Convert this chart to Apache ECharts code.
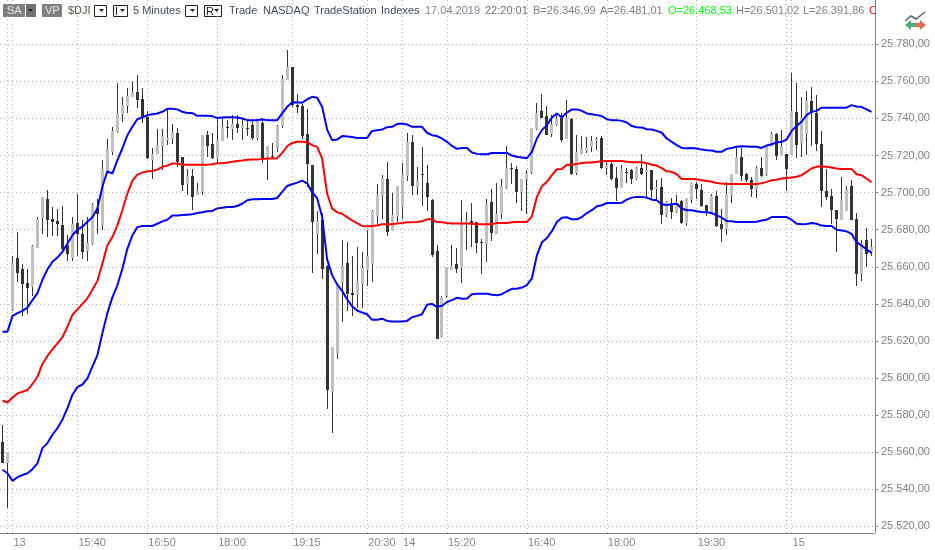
<!DOCTYPE html>
<html>
<head>
<meta charset="utf-8">
<style>
  html, body { margin: 0; padding: 0; background: #fff; }
  #main { width: 935px; height: 550px; }
</style>
<script src="https://cdn.jsdelivr.net/npm/echarts@6/dist/echarts.min.js"></script>
</head>
<body>
<div id="main"></div>
<script>
// one entry per 5 minute bar
const opens = [
  25565.6,25554.4,25636.6,25665,25659,25651.2,25649.2,25670.3,25686.5,25696.6,
  25685.8,25684.7,25682.5,25671.7,25664.7,25683.6,25677.7,25668.6,25672.3,25691.5,
  25682.3,25710.3,25721.8,25732.6,25742.3,25746.7,25751.7,25754.2,25750.5,25741,
  25717.5,25721,25725,25728.3,25729,25732,25719,25704.5,25708.8,25698.6,
  25700.3,25731,25726.1,25718,25728,25735.5,25734.1,25737,25735,25735,
  25736.4,25729.2,25737.8,25718.4,25720,25723.8,25735.9,25760.7,25767.7,25747.2,
  25746.7,25731.5,25714.8,25677.5,25685.2,25660.2,25592.4,25613.7,25651.7,25661.8,
  25645.6,25645,25650.6,25658.2,25661.4,25687.4,25698.2,25707.2,25679.5,25687.4,
  25692.4,25708.8,25727.4,25703,25710,25705,25695.9,25668.5,25622.7,25644,
  25658.2,25661.4,25659.5,25684,25684.7,25684.3,25673.5,25672.3,25694.8,25677.7,
  25688.3,25702.7,25713.5,25713,25700.4,25707.6,25711.2,25734.2,25744,25741.3,
  25731.4,25736.4,25740.4,25728.8,25739.6,25710.6,25721.4,25722.5,25724.5,25728,
  25729.4,25713.3,25715.3,25707.7,25702.7,25711,25712,25707.6,25713.5,25711,
  25712,25701.8,25702.9,25687.7,25693.7,25689.5,25695.3,25683.2,25695.9,25704.9,
  25701.6,25693.5,25689.5,25698,25682.9,25680.5,25698.2,25710,25719,25710,
  25707,25701.8,25713.5,25709.4,25724.7,25731.5,25719.8,25720.7,25720.5,25743.6,
  25726.8,25731.5,25749.4,25743,25726,25700.7,25698.2,25690.5,25685,25690,
  25703.4,25686,25656.2,25674.2,25668
];
const closes = [
  25554.4,25560,25662.3,25656.8,25650.6,25648.6,25671.4,25685.8,25697.7,25685.4,
  25684.3,25683,25669.4,25666.8,25683,25677.5,25668,25672.8,25693.3,25688.5,
  25712.6,25723.4,25733.3,25743,25747.2,25752,25754.2,25750,25740.4,25718.7,
  25720.7,25725.8,25730.5,25729.4,25732.8,25716.6,25704,25708.8,25697.7,25700.8,
  25731,25725.2,25718.6,25728.3,25735.3,25735,25736.9,25734.8,25736.4,25734.5,
  25729.4,25738.6,25718.4,25725,25719.5,25735.9,25761.3,25767.7,25747.2,25746,
  25730.5,25715.3,25684,25684.7,25658.7,25593.5,25616.6,25650,25660.4,25645.2,
  25644.9,25652.4,25659.3,25665.8,25690,25698.7,25708,25679,25688,25703.6,
  25709.5,25727.4,25703.4,25706,25709.5,25697.8,25666.3,25621.3,25643.8,25660,
  25660.4,25659,25682.9,25684.5,25683.4,25673,25672.6,25693.7,25678,25688.3,
  25703.4,25713.5,25712.8,25700.4,25707.6,25710.8,25735,25743.2,25740,25731,
  25737,25739.6,25728.3,25740.4,25710.3,25721.8,25723.4,25724.3,25728,25729,
  25713.3,25714.8,25707.2,25702.5,25712.6,25710.5,25707.2,25713.3,25710.3,25712,
  25701.3,25703,25687.7,25695.3,25689.5,25695,25683.6,25697,25704.9,25701.8,
  25693,25690,25698,25682,25680.2,25699,25710.3,25719,25709,25706.7,
  25702.2,25713.5,25709,25725,25731.5,25720,25725,25712.6,25744,25725.6,
  25740,25749.5,25743,25726,25701,25697.7,25690.5,25685.6,25695.9,25701.8,
  25685.4,25656.2,25672.4,25666.7,25670.6
];
const lows = [
  25554,25530,25636,25652,25633.5,25634.4,25644,25670,25677.7,25676.2,
  25676.6,25676.8,25667.2,25663.2,25663,25666,25664,25663,25671.7,25677.7,
  25680,25710.3,25720.2,25732.2,25738.2,25742.7,25751.7,25745.4,25737.7,25718,
  25707.6,25721,25712,25725.6,25726,25714,25701,25698.6,25690.5,25698.6,
  25698.6,25719.3,25718,25715.7,25728,25729.7,25728.3,25732,25728.3,25730.5,
  25728.6,25728.3,25716,25706.7,25718.4,25722,25735,25760.7,25746.3,25742.7,
  25729,25703,25656.8,25666.7,25653.5,25583.2,25570.6,25610.5,25630,25635.9,
  25633.7,25638,25638,25649.7,25651.9,25682.5,25686,25676.6,25679.5,25684,
  25686,25706,25698.6,25698.6,25693,25690,25665.5,25621,25622,25643,
  25658,25656.8,25651.4,25669,25670.8,25667.6,25656,25662.7,25674,25677.7,
  25685.8,25702,25704.9,25694.4,25690,25688.3,25710,25734,25740,25731,
  25730,25736,25727.4,25728.8,25709.4,25709.4,25721,25721.4,25722,25723,
  25713,25709.4,25706.7,25695.5,25702.7,25705,25704.5,25706.7,25709.4,25697.7,
  25696.8,25696.8,25682.9,25687,25686,25689,25683,25682,25694.4,25696.8,
  25692,25687.4,25689.5,25681.4,25673.3,25677.3,25694.4,25710,25706.3,25705.8,
  25697.7,25697,25708.5,25708.8,25724.7,25717.5,25719.8,25701,25720.5,25718.7,
  25719.3,25720.2,25725,25722.5,25692,25696,25683.2,25668,25685,25690,
  25685,25649.5,25652.3,25659.8,25665.6
];
const highs = [
  25574.8,25560,25665.8,25678.7,25661.3,25658.6,25671.7,25686.8,25697.7,25701.4,
  25692.4,25691.2,25692.8,25677,25687,25699,25685,25687,25694.5,25696.4,
  25717.8,25728.8,25735.3,25759.3,25751.7,25756.2,25760,25763.4,25756.4,25744,
  25724.3,25734.2,25734.2,25745.4,25736.8,25734.6,25719,25713,25713,25705,
  25731,25733,25732.3,25740,25741,25739,25741.6,25741.8,25740,25739,
  25739,25739.5,25740,25725,25726.5,25736.4,25763.4,25777,25767.7,25753,
  25748,25745,25714.8,25690,25689,25661,25616.6,25651,25674.4,25673.5,
  25665.8,25670.8,25668,25679.8,25690.5,25704.7,25709.5,25716.4,25700,25703.6,
  25716,25732.4,25731,25714,25724.7,25714.8,25696.3,25671.7,25644,25660,
  25671.7,25670,25696,25689.4,25694.2,25684.3,25674.8,25696.4,25701.8,25705,
  25707.6,25725,25716.2,25714.2,25707.6,25712,25735,25748.6,25753,25746.7,
  25742,25743,25742.7,25750,25740,25731,25730.5,25730,25730.5,25730,
  25730.5,25717.5,25717.5,25714,25714.8,25713.5,25713,25714,25720.7,25716.6,
  25712,25707,25708,25695.3,25697,25698.6,25695.9,25697,25705.2,25705.8,
  25704.5,25693.5,25699,25700.7,25691.4,25705.8,25710.3,25723.8,25723.8,25710.6,
  25708.5,25714.2,25719,25725,25732.8,25732.3,25733.7,25720.7,25764.3,25759.3,
  25751.4,25754.8,25756.8,25752.6,25733,25712.6,25702,25690.5,25708.5,25703.4,
  25707,25689,25674.6,25681,25675
];

// bands
const upperBand = [
  25625,25625,25633.5,25635,25636.2,25638,25642,25645.8,25653,25658.6,
  25662.7,25665,25668,25672.6,25677,25680,25681.6,25684.3,25686.7,25691.5,
  25703.2,25711.5,25710.3,25717.5,25723.8,25731,25735.5,25739.6,25740.5,25741.8,
  25742.3,25742.7,25743.6,25745.2,25745.2,25744.9,25743.6,25743,25742.9,25741.4,
  25741.4,25741.4,25741.3,25740.2,25740.5,25740.7,25740.7,25740.5,25740,25739.1,
  25739.1,25739.1,25739.5,25739.1,25739.1,25739.1,25742.7,25746.3,25748.6,25748.8,
  25748.5,25750.3,25751.7,25751.2,25746.3,25734,25728.3,25728.6,25730.5,25730.3,
  25730,25729.5,25729.4,25729.5,25733.3,25733.7,25734,25735.3,25735.5,25737,
  25737.3,25736.8,25735.5,25735.5,25735.5,25732.3,25731,25730.5,25729.2,25727.4,
  25725.2,25723.6,25724.1,25724.1,25721.6,25720.9,25720.7,25720.7,25721.4,25721.4,
  25721.4,25721.4,25720,25719.3,25719,25718.6,25722,25729.2,25733.7,25736.4,
  25740.5,25742.7,25740.5,25743.2,25744.9,25744.9,25744.1,25742.7,25742.3,25741.8,
  25741.3,25739.6,25739.1,25739.1,25738.7,25737.8,25735.9,25735.3,25735.1,25734.2,
  25734,25733.3,25732.3,25729.2,25727.4,25725.6,25724.1,25724,25724.1,25723.8,
  25723.2,25722.9,25722.7,25722,25722,25723.6,25724.1,25724.7,25725,25724.9,
  25724.7,25724.7,25724.1,25725.4,25726.1,25727,25727.4,25728.6,25733.3,25736,
  25738.2,25741.8,25743.6,25744.1,25745.8,25745.8,25745.8,25745.8,25745.8,25745.8,
  25747.2,25746.5,25746.3,25744.9,25743.6
];
const middleBand = [
  25587.7,25586.8,25589.5,25591.7,25592.6,25593.5,25596.8,25600.7,25607.6,25611.9,
  25615.5,25618.7,25622,25627.7,25634,25637,25640,25643,25647.6,25652.4,
  25661.7,25671.6,25676,25682.3,25690.5,25699.5,25706.3,25709.7,25710.8,25711.5,
  25711.7,25712.4,25713.9,25714.6,25715.7,25715.7,25715.1,25715.1,25715.1,25715.1,
  25715.1,25715.1,25715.3,25715.9,25715.9,25716.2,25716.6,25717.1,25717.3,25717.7,
  25717.8,25717.8,25718.2,25718.4,25718.4,25718.6,25721.4,25725,25726.8,25727.4,
  25727.4,25727.2,25725.6,25724.7,25718.4,25699.5,25691.4,25689.5,25688.6,25686.8,
  25685,25683.6,25682,25681.8,25682,25682.3,25682.9,25683,25683,25683.4,
  25683.6,25684,25684,25684.1,25684.5,25685.6,25685.6,25684.1,25684,25683.6,
  25683.4,25683.4,25683.4,25683.4,25683.2,25682.9,25682.9,25683,25683,25683.6,
  25683.6,25683.6,25684,25684.1,25684.1,25684.1,25687.2,25697.7,25703.4,25705.8,
  25709.4,25712.6,25712.8,25715,25715,25715.5,25716,25716.2,25716.2,25716.6,
  25716.9,25717.1,25717.1,25717.1,25717.1,25716.6,25716.4,25716.4,25716.4,25715.9,
  25715,25714.6,25713.2,25711.5,25711.2,25709.9,25707.4,25707.4,25707.4,25707.2,
  25706.7,25706.3,25705.9,25705.2,25704.9,25704.7,25704.7,25704.7,25704.7,25704.7,
  25704.7,25704.7,25705,25705.8,25706.7,25707,25707.6,25707.9,25708.1,25708.6,
  25709.4,25711.2,25713,25713.9,25714.2,25713.9,25713.5,25713,25712.8,25712.8,
  25712.8,25709.9,25709.4,25707.6,25705.6
];
const lowerBand = [
  25550.5,25548.6,25544.5,25546.5,25547.7,25548.6,25550.8,25554,25562.2,25564.9,
  25569.4,25573,25577.5,25583.8,25591,25595.1,25596.5,25599.8,25606.1,25612.4,
  25624.1,25635,25643.5,25650,25658.9,25669.7,25676.9,25681.4,25682,25682,
  25682,25683.2,25684.5,25685.4,25687.6,25687.7,25687.9,25688.1,25688.3,25689,
  25689.4,25689.9,25690.1,25691.5,25691.9,25692.3,25692.3,25692.8,25694,25695.9,
  25696.4,25696.4,25696.6,25696.6,25696.6,25697.1,25700.4,25703.6,25704.5,25705.4,
  25706.5,25705,25700.2,25697,25687,25664,25655.5,25650.5,25647,25642.5,
  25638.7,25636.4,25635.3,25634.4,25631.4,25631.4,25632,25630.8,25630.5,25630.5,
  25630.5,25630.8,25632.8,25633.5,25634.4,25639.5,25640,25638.4,25639,25641,
  25642,25643.3,25642.7,25642.9,25645.2,25645.5,25645.5,25645.5,25644.9,25644.7,
  25645.2,25646.8,25648.1,25648.1,25648.8,25650.1,25653.7,25666.2,25673.2,25675.5,
  25679.2,25684.1,25686.5,25686.7,25685.6,25685.6,25686.8,25689,25690.5,25692.6,
  25693.2,25694.4,25694.4,25694.4,25694.6,25696.2,25697.3,25697.7,25697.7,25697.3,
  25696.2,25695.9,25693.7,25693.3,25693.7,25694,25691.4,25690.5,25690.5,25689.9,
  25689.5,25689.4,25689,25687.7,25686.5,25684.7,25684.5,25684.1,25684.1,25684.1,
  25684.1,25684.3,25685,25685.4,25686.8,25686.8,25686.8,25686.8,25685.4,25683.2,
  25682.9,25683.1,25683.6,25683.2,25682.2,25682,25682,25680,25679.6,25679.1,
  25677.8,25673.3,25671.5,25669.4,25667.4
];

// time axis: bar index of each labelled tick, and the extra session lines
const tickBars = [2, 15, 29, 43, 58, 73, 80, 89, 105, 121, 139, 158];
const tickLabels = ['13', '15:40', '16:50', '18:00', '19:15', '20:30', '14', '15:20', '16:40', '18:00', '19:30', '15'];
const extraLines = [1, 157];

const priceTicks = [25520, 25540, 25560, 25580, 25600, 25620, 25640, 25660, 25680, 25700, 25720, 25740, 25760, 25780];

const categories = opens.map((v, i) => String(i));
const candleData = opens.map((v, i) => [i, v, closes[i], lows[i], highs[i]]);

function fmtPrice(v) {
  const s = String(Math.round(v));
  return s.slice(0, 2) + '.' + s.slice(2) + ',00';
}

function renderCandle(params, api) {
  const i = api.value(0);
  const o = api.coord([i, api.value(1)]);
  const c = api.coord([i, api.value(2)]);
  const l = api.coord([i, api.value(3)]);
  const h = api.coord([i, api.value(4)]);
  const x = Math.floor(o[0]);
  const top = Math.round(Math.min(o[1], c[1]));
  const bot = Math.round(Math.max(o[1], c[1]));
  const up = api.value(2) >= api.value(1);
  return {
    type: 'group',
    children: [{
      type: 'rect',
      shape: { x: x, y: Math.round(h[1]), width: 1, height: Math.round(l[1]) - Math.round(h[1]) },
      style: { fill: '#333333' }
    }, {
      type: 'rect',
      shape: { x: x - 1, y: top, width: 3, height: Math.max(bot - top, 1) },
      style: { fill: up ? '#c0c0c0' : '#333333' }
    }]
  };
}

// header row
const hdrFont = '11px "Liberation Sans", Arial, sans-serif';
function hdrText(x, str, color) {
  return { type: 'text', x: x, y: 5, style: { text: str, fill: color, font: hdrFont } };
}
function arrow(x) {
  return { type: 'polygon', shape: { points: [[x, 9], [x + 5, 9], [x + 2.5, 12]] }, style: { fill: '#222' } };
}
function box(x, w, label) {
  const els = [{
    type: 'rect', shape: { x: x + 0.5, y: 5.5, width: w, height: 11 },
    style: { fill: '#fff', stroke: '#222', lineWidth: 1 }
  }, arrow(x + w - 7)];
  if (label) els.push({ type: 'text', x: x + 2, y: 6, style: { text: label, fill: '#222', font: hdrFont } });
  return els;
}
const headerEls = [
  { type: 'rect', shape: { x: 3, y: 4, width: 22, height: 13 }, style: { fill: '#808080' } },
  { type: 'rect', shape: { x: 26, y: 4, width: 10, height: 13 }, style: { fill: '#707070' } },
  { type: 'polygon', shape: { points: [[28, 9], [33, 9], [30.5, 12]] }, style: { fill: '#222' } },
  { type: 'rect', shape: { x: 42, y: 4, width: 20, height: 13 }, style: { fill: '#808080' } },
  { type: 'text', x: 7, y: 5, style: { text: 'SA', fill: '#e8e8e8', font: hdrFont } },
  { type: 'text', x: 45, y: 5, style: { text: 'VP', fill: '#e8e8e8', font: hdrFont } },
  hdrText(68, '$DJI', '#5a5040'),
  ...box(94, 12),
  ...box(113, 14, 'I'),
  hdrText(133, '5 Minutes', '#404a60'),
  ...box(185, 12),
  ...box(204, 17, 'R'),
  hdrText(229, 'Trade', '#404a60'),
  hdrText(263, 'NASDAQ', '#404a60'),
  hdrText(314, 'TradeStation', '#404a60'),
  hdrText(381, 'Indexes', '#404a60'),
  hdrText(425, '17.04.2019', '#808090'),
  hdrText(485, '22:20:01', '#707070'),
  hdrText(533, 'B=26.346,99', '#808080'),
  hdrText(600, 'A=26.481,01', '#808080'),
  hdrText(668, 'O=26.468,53', '#00ff00'),
  hdrText(736, 'H=26.501,02', '#808080'),
  hdrText(803, 'L=26.391,86', '#808080'),
  hdrText(869, 'C', '#ff0000'),
  { type: 'rect', shape: { x: 876, y: 2, width: 8, height: 16 }, style: { fill: '#fff' } },
  // toolbar icon
  { type: 'polyline', shape: { points: [[905, 21], [911, 16], [916, 19], [925, 12]] }, style: { stroke: '#5a6478', lineWidth: 1.5, fill: 'none' } },
  { type: 'polygon', shape: { points: [[905, 25], [911, 20], [911, 23], [916, 23], [916, 27], [911, 27], [911, 30]] }, style: { fill: '#4caf70' } },
  { type: 'polygon', shape: { points: [[926, 25], [920, 20], [920, 23], [916, 23], [916, 27], [920, 27], [920, 30]] }, style: { fill: '#e07050' } }
];

const chart = echarts.init(document.getElementById('main'), null, { renderer: 'canvas' });
const dots = { color: '#b4b4b4', width: 1, type: [1, 3] };

chart.setOption({
  animation: false,
  backgroundColor: '#fff',
  grid: { left: -1, top: 0, width: 875, height: 533 },
  graphic: { elements: headerEls },
  xAxis: {
    type: 'category',
    data: categories,
    boundaryGap: true,
    axisLine: { lineStyle: { color: '#808080', width: 1 } },
    axisTick: {
      alignWithLabel: true, length: 3, lineStyle: { color: '#808080' },
      interval: (idx) => tickBars.includes(idx) || extraLines.includes(idx)
    },
    axisLabel: {
      interval: (idx) => tickBars.includes(idx),
      formatter: (v, idx) => tickLabels[tickBars.indexOf(idx)] || '',
      color: '#808890',
      fontFamily: '"Liberation Sans", Arial, sans-serif',
      fontSize: 11,
      align: 'left',
      margin: 4,
      padding: [0, 0, 0, 1]
    },
    splitLine: {
      show: true,
      alignWithLabel: true,
      interval: (idx) => tickBars.includes(idx) || extraLines.includes(idx),
      lineStyle: dots
    }
  },
  yAxis: {
    type: 'value',
    position: 'right',
    offset: 1,
    min: 25516.4,
    max: 25803.9,
    axisLine: { show: true, lineStyle: { color: '#808080', width: 1 } },
    axisTick: { show: true, length: 3, customValues: priceTicks, lineStyle: { color: '#808080' } },
    axisLabel: {
      customValues: priceTicks,
      formatter: fmtPrice,
      color: '#808080',
      fontFamily: '"Liberation Sans", Arial, sans-serif',
      fontSize: 11,
      margin: 6
    },
    splitLine: { show: true, lineStyle: dots }
  },
  series: [{
    type: 'custom',
    name: 'Price',
    renderItem: renderCandle,
    encode: { x: 0, y: [1, 2, 3, 4] },
    data: candleData,
    z: 2
  }, {
    type: 'line', name: 'Upper', data: upperBand, symbol: 'none', z: 3,
    lineStyle: { color: '#0000ff', width: 2 }
  }, {
    type: 'line', name: 'Middle', data: middleBand, symbol: 'none', z: 3,
    lineStyle: { color: '#ff0000', width: 2 }
  }, {
    type: 'line', name: 'Lower', data: lowerBand, symbol: 'none', z: 3,
    lineStyle: { color: '#0000ff', width: 2 }
  }]
});
</script>
</body>
</html>
